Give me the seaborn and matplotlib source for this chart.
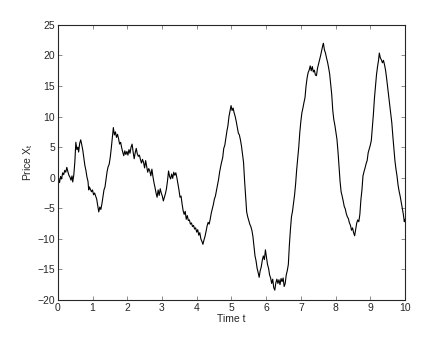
import numpy as np
import pandas as pd
import matplotlib
matplotlib.use("Agg")
import matplotlib.pyplot as plt
import seaborn as sns

# path (time, price)
time_t = [
    0.00, 0.03, 0.05, 0.08, 0.11, 0.14, 0.17, 0.20, 0.23, 0.26, 0.29, 0.32, 0.35, 0.38, 0.41, 0.43, 0.46, 0.49,
    0.52, 0.55, 0.58, 0.60, 0.63, 0.66, 0.69, 0.72, 0.75, 0.78, 0.81, 0.84, 0.87, 0.89, 0.91, 0.94, 0.97, 1.00,
    1.03, 1.06, 1.09, 1.12, 1.15, 1.18, 1.21, 1.24, 1.27, 1.30, 1.33, 1.36, 1.39, 1.42, 1.45, 1.48, 1.51, 1.54,
    1.57, 1.60, 1.63, 1.66, 1.69, 1.72, 1.75, 1.78, 1.81, 1.84, 1.87, 1.90, 1.93, 1.96, 1.99, 2.02, 2.05, 2.08,
    2.11, 2.14, 2.17, 2.20, 2.23, 2.26, 2.29, 2.32, 2.35, 2.38, 2.41, 2.44, 2.47, 2.50, 2.53, 2.56, 2.59, 2.62,
    2.65, 2.68, 2.71, 2.74, 2.77, 2.80, 2.83, 2.86, 2.89, 2.92, 2.95, 2.98, 3.01, 3.04, 3.07, 3.10, 3.13, 3.16,
    3.19, 3.22, 3.25, 3.28, 3.31, 3.34, 3.37, 3.40, 3.43, 3.46, 3.49, 3.52, 3.55, 3.58, 3.61, 3.64, 3.67, 3.70,
    3.73, 3.76, 3.79, 3.82, 3.85, 3.88, 3.91, 3.94, 3.97, 4.00, 4.03, 4.06, 4.09, 4.12, 4.15, 4.18, 4.21, 4.24,
    4.27, 4.30, 4.33, 4.36, 4.39, 4.42, 4.45, 4.48, 4.51, 4.54, 4.57, 4.60, 4.63, 4.66, 4.69, 4.72, 4.75, 4.78,
    4.81, 4.84, 4.87, 4.90, 4.93, 4.96, 4.99, 5.02, 5.05, 5.08, 5.11, 5.14, 5.17, 5.20, 5.23, 5.26, 5.29, 5.32,
    5.35, 5.38, 5.41, 5.44, 5.47, 5.50, 5.53, 5.56, 5.59, 5.62, 5.65, 5.68, 5.71, 5.74, 5.77, 5.80, 5.83, 5.86,
    5.89, 5.92, 5.95, 5.98, 6.01, 6.04, 6.07, 6.10, 6.13, 6.16, 6.19, 6.22, 6.25, 6.28, 6.31, 6.34, 6.37, 6.40,
    6.43, 6.46, 6.49, 6.52, 6.55, 6.58, 6.61, 6.64, 6.67, 6.70, 6.73, 6.76, 6.79, 6.82, 6.85, 6.88, 6.91, 6.94,
    6.97, 7.00, 7.03, 7.06, 7.09, 7.12, 7.15, 7.18, 7.21, 7.24, 7.27, 7.30, 7.33, 7.36, 7.39, 7.42, 7.45, 7.48,
    7.51, 7.54, 7.57, 7.60, 7.63, 7.65, 7.68, 7.71, 7.74, 7.77, 7.80, 7.83, 7.86, 7.89, 7.92, 7.95, 7.98, 8.01,
    8.04, 8.07, 8.10, 8.13, 8.16, 8.19, 8.22, 8.25, 8.28, 8.31, 8.34, 8.37, 8.40, 8.43, 8.46, 8.49, 8.52, 8.55,
    8.58, 8.61, 8.64, 8.67, 8.70, 8.73, 8.76, 8.79, 8.82, 8.85, 8.88, 8.91, 8.94, 8.97, 9.00, 9.03, 9.06, 9.09,
    9.12, 9.15, 9.18, 9.21, 9.24, 9.26, 9.29, 9.32, 9.35, 9.38, 9.41, 9.44, 9.47, 9.50, 9.53, 9.56, 9.59, 9.62,
    9.65, 9.68, 9.71, 9.74, 9.77, 9.80, 9.83, 9.86, 9.89, 9.92, 9.95, 9.98, 10.00,
]
price_x = [
    -1.0, -0.3, -0.8, 0.2, -0.2, 0.8, 0.5, 1.2, 0.9, 1.7, 1.0, 0.4, 0.1, -0.4, 0.3, -0.7, 0.4, 2.5,
    5.8, 4.6, 5.0, 4.2, 5.6, 6.2, 5.4, 4.5, 3.2, 2.0, 1.2, 0.1, -0.6, -2.0, -1.5, -1.9, -2.3, -2.0,
    -2.8, -2.5, -3.0, -3.5, -4.6, -5.6, -4.8, -5.2, -4.3, -3.2, -2.0, -1.5, -0.2, 1.0, 1.8, 2.2, 3.3, 4.8,
    6.5, 8.2, 7.0, 7.5, 6.6, 7.1, 6.4, 5.5, 5.8, 4.9, 4.2, 3.6, 4.4, 3.8, 4.3, 3.7, 4.6, 4.0,
    5.0, 5.5, 4.2, 3.1, 4.1, 4.8, 3.9, 3.5, 3.7, 3.0, 2.4, 3.0, 2.5, 1.6, 2.8, 1.8, 0.9, 1.5,
    1.1, 0.3, 1.4, 0.2, -0.8, -1.6, -2.5, -3.2, -2.0, -2.9, -1.8, -2.5, -3.0, -3.8, -3.2, -2.6, -1.8, -0.5,
    1.1, 0.2, -0.2, 0.6, -0.1, 0.9, 0.4, 0.8, 0.0, -1.0, -2.0, -3.2, -3.0, -4.3, -5.4, -6.0, -5.5, -6.8,
    -6.2, -7.0, -6.9, -7.6, -7.4, -8.0, -7.8, -8.4, -8.2, -8.9, -8.5, -9.4, -9.0, -10.0, -10.4, -10.9, -10.2, -9.6,
    -8.8, -7.9, -7.3, -7.6, -6.8, -5.8, -5.1, -4.4, -3.5, -3.0, -2.1, -1.2, -0.3, 0.9, 1.8, 2.6, 3.3, 4.8,
    5.3, 6.5, 7.6, 8.5, 10.0, 10.9, 11.8, 11.0, 11.4, 10.6, 10.0, 9.2, 8.2, 7.3, 7.0, 6.2, 5.2, 3.9,
    2.5, -0.5, -3.0, -5.6, -6.4, -7.0, -7.6, -8.0, -8.6, -9.6, -11.2, -12.8, -13.6, -14.8, -15.5, -16.3, -15.2, -14.6,
    -13.5, -12.8, -13.4, -11.8, -13.0, -14.2, -14.8, -15.9, -16.4, -17.3, -16.6, -18.0, -18.4, -17.2, -16.6, -17.3, -16.7, -17.5,
    -16.5, -17.0, -16.4, -17.8, -17.3, -15.9, -15.2, -14.2, -11.0, -8.5, -6.4, -5.5, -4.1, -2.8, -1.0, 1.3, 3.2, 5.0,
    7.4, 9.2, 10.6, 11.4, 12.3, 13.1, 15.0, 16.3, 17.2, 17.6, 18.3, 17.5, 18.2, 17.3, 17.6, 16.8, 16.7, 17.9,
    18.6, 19.3, 20.0, 20.8, 21.6, 22.0, 20.9, 20.4, 19.6, 18.9, 18.0, 17.0, 15.3, 13.6, 11.0, 9.5, 8.6, 7.4,
    6.3, 4.3, 1.8, -0.6, -2.3, -3.0, -3.8, -4.7, -5.1, -5.9, -6.4, -6.7, -7.4, -7.8, -8.6, -8.2, -9.0, -9.5,
    -8.4, -7.4, -6.9, -7.2, -6.0, -3.6, -2.0, 0.3, 1.0, 1.6, 2.3, 2.8, 4.1, 4.7, 5.3, 6.1, 8.2, 10.4,
    13.0, 15.0, 16.9, 18.2, 19.3, 20.4, 19.6, 19.3, 18.8, 19.2, 18.5, 17.6, 16.3, 14.8, 13.3, 11.9, 10.5, 9.0,
    6.8, 4.9, 2.8, 1.4, 0.3, -1.2, -2.2, -3.0, -4.0, -4.9, -5.9, -7.2, -6.8,
]

x_ticks = list(range(0, 11))
y_ticks = list(range(-20, 30, 5))

sns.set_style("ticks")
plt.rcParams['font.family'] = ['Liberation Sans', 'DejaVu Sans']
plt.rcParams['axes.unicode_minus'] = True

df = pd.DataFrame({"t": time_t, "x": price_x})

fig = plt.figure(figsize=(4.48, 3.37), dpi=100)
ax = fig.add_axes([0.129, 0.110, 0.775, 0.816])
sns.lineplot(data=df, x="t", y="x", color="black", linewidth=0.8, ax=ax, sort=False)

ax.set_xlim(0, 10)
ax.set_ylim(-20, 25)
ax.set_xticks(x_ticks)
ax.set_yticks(y_ticks)
ax.tick_params(direction="in", top=True, right=True, length=3, width=0.6,
               labelsize=7.5, color="#777777", pad=2)
for s in ax.spines.values():
    s.set_linewidth(0.8)
    s.set_visible(True)

ax.set_xlabel("Time t", fontsize=7.5, labelpad=1)
ax.set_ylabel(r"Price X$_\mathregular{t}$", fontsize=7.5, labelpad=2)

fig.savefig("out.png", dpi=100)
